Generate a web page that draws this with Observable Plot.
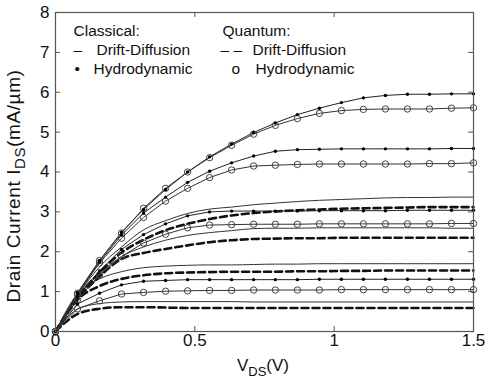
<!DOCTYPE html>
<html>
<head>
<meta charset="utf-8">
<script src="https://cdn.jsdelivr.net/npm/d3@7"></script>
<script src="https://cdn.jsdelivr.net/npm/@observablehq/plot@0.6"></script>
<style>
  body { margin: 0; background: #fff; }
  #chart svg { display: block; }
</style>
</head>
<body>
<div id="chart"></div>
<script>
// Drain bias points (V)
const vds = [0, 0.079, 0.158, 0.237, 0.316, 0.395, 0.474, 0.553, 0.632, 0.711,
             0.789, 0.868, 0.947, 1.026, 1.105, 1.184, 1.263, 1.342, 1.421, 1.5];

// Hydrodynamic, classical (mA/um)
const classicalHD1 = [0, 0.97, 1.78, 2.49, 3.06, 3.56, 4.00, 4.38, 4.70, 4.99, 5.23, 5.44, 5.60, 5.74, 5.86, 5.92, 5.95, 5.95, 5.96, 5.96];
const classicalHD2 = [0, 0.95, 1.74, 2.42, 2.97, 3.37, 3.74, 4.02, 4.23, 4.40, 4.52, 4.56, 4.57, 4.58, 4.58, 4.58, 4.58, 4.58, 4.59, 4.59];
const classicalHD3 = [0, 0.88, 1.52, 2.06, 2.43, 2.70, 2.90, 3.00, 3.02, 3.02, 3.02, 3.02, 3.03, 3.03, 3.03, 3.03, 3.04, 3.04, 3.04, 3.04];
const classicalHD4 = [0, 0.69, 0.96, 1.17, 1.26, 1.28, 1.30, 1.30, 1.30, 1.30, 1.30, 1.30, 1.31, 1.31, 1.31, 1.31, 1.31, 1.31, 1.31, 1.31];

// Hydrodynamic, quantum (mA/um)
const quantumHD1 = [0, 0.96, 1.78, 2.47, 3.09, 3.59, 4.00, 4.36, 4.67, 4.95, 5.17, 5.34, 5.47, 5.54, 5.57, 5.58, 5.58, 5.58, 5.60, 5.61];
const quantumHD2 = [0, 0.93, 1.72, 2.34, 2.86, 3.27, 3.59, 3.86, 4.05, 4.15, 4.17, 4.19, 4.20, 4.20, 4.20, 4.20, 4.20, 4.21, 4.21, 4.23];
const quantumHD3 = [0, 0.80, 1.42, 1.88, 2.22, 2.44, 2.60, 2.67, 2.68, 2.69, 2.69, 2.69, 2.70, 2.70, 2.70, 2.70, 2.70, 2.70, 2.71, 2.71];
const quantumHD4 = [0, 0.57, 0.77, 0.94, 0.98, 1.01, 1.02, 1.03, 1.03, 1.04, 1.04, 1.04, 1.04, 1.05, 1.05, 1.05, 1.05, 1.05, 1.05, 1.05];

// Drift-diffusion, classical (mA/um)
const classicalDD1 = [0, 0.90, 1.62, 2.12, 2.55, 2.78, 2.96, 3.07, 3.12, 3.18, 3.22, 3.26, 3.29, 3.31, 3.33, 3.35, 3.36, 3.36, 3.37, 3.37];
const classicalDD2 = [0, 0.85, 1.45, 1.88, 2.12, 2.29, 2.41, 2.48, 2.53, 2.58, 2.59, 2.59, 2.60, 2.60, 2.60, 2.60, 2.60, 2.60, 2.59, 2.59];
const classicalDD3 = [0, 0.95, 1.32, 1.50, 1.60, 1.64, 1.66, 1.67, 1.67, 1.68, 1.69, 1.69, 1.70, 1.70, 1.70, 1.70, 1.70, 1.70, 1.70, 1.70];
const classicalDD4 = [0, 0.56, 0.70, 0.74, 0.75, 0.75, 0.75, 0.75, 0.75, 0.74, 0.74, 0.74, 0.74, 0.74, 0.74, 0.74, 0.74, 0.74, 0.74, 0.74];

// Drift-diffusion, quantum (mA/um)
const quantumDD1 = [0, 0.85, 1.48, 1.98, 2.30, 2.54, 2.70, 2.82, 2.91, 2.97, 3.01, 3.04, 3.06, 3.08, 3.09, 3.10, 3.11, 3.12, 3.12, 3.12];
const quantumDD2 = [0, 0.80, 1.38, 1.82, 1.97, 2.07, 2.16, 2.24, 2.29, 2.32, 2.33, 2.34, 2.34, 2.35, 2.35, 2.35, 2.35, 2.35, 2.35, 2.35];
const quantumDD3 = [0, 0.80, 1.14, 1.32, 1.41, 1.46, 1.48, 1.49, 1.50, 1.50, 1.50, 1.51, 1.51, 1.52, 1.52, 1.53, 1.53, 1.53, 1.53, 1.53];
const quantumDD4 = [0, 0.44, 0.57, 0.61, 0.61, 0.60, 0.59, 0.59, 0.59, 0.59, 0.59, 0.59, 0.59, 0.59, 0.59, 0.59, 0.59, 0.59, 0.59, 0.59];

const xTicks = [0, 0.5, 1, 1.5];
const yTicks = [0, 1, 2, 3, 4, 5, 6, 7, 8];

// Long-format rows: one per (curve, bias point)
function rows(series) {
  return series.flatMap((vals, k) => vals.map((v, i) => ({vds: vds[i], ids: v, curve: k})));
}

const hdClassical = rows([classicalHD1, classicalHD2, classicalHD3, classicalHD4]);
const hdQuantum = rows([quantumHD1, quantumHD2, quantumHD3, quantumHD4]);
const ddClassical = rows([classicalDD1, classicalDD2, classicalDD3, classicalDD4]);
const ddQuantum = rows([quantumDD1, quantumDD2, quantumDD3, quantumDD4]);

const font = "'Liberation Sans', Arial, sans-serif";
const tickLenY = 0.126;  // 5px inward tick in y units
const tickLenX = 0.018;  // 5px inward tick in x units

function legendText(label, dx, dy, extra = {}) {
  return Plot.text([label], {
    text: d => d, frameAnchor: "top-left", dx, dy,
    textAnchor: "start", lineAnchor: "middle", fontSize: 15.5, fill: "#111", ...extra
  });
}

const chart = Plot.plot({
  width: 485,
  height: 380,
  marginLeft: 55,
  marginRight: 12,
  marginTop: 12,
  marginBottom: 49,
  style: {fontFamily: font, fontSize: "17px", background: "#fff", color: "#111"},
  x: {domain: [0, 1.5]},
  y: {domain: [0, 8]},
  marks: [
    // drift-diffusion curves
    Plot.line(ddClassical, {x: "vds", y: "ids", z: "curve", stroke: "#333", strokeWidth: 1, curve: "monotone-x"}),
    Plot.line(ddQuantum, {x: "vds", y: "ids", z: "curve", stroke: "#111", strokeWidth: 2.6, strokeDasharray: "7,4", curve: "monotone-x"}),
    // hydrodynamic curves with markers
    Plot.line(hdClassical, {x: "vds", y: "ids", z: "curve", stroke: "#222", strokeWidth: 1}),
    Plot.line(hdQuantum, {x: "vds", y: "ids", z: "curve", stroke: "#333", strokeWidth: 1}),
    Plot.dot(hdQuantum, {x: "vds", y: "ids", r: 3.2, stroke: "#444", strokeWidth: 1, fill: "none"}),
    Plot.dot(hdClassical, {x: "vds", y: "ids", r: 1.7, fill: "#000", stroke: "none"}),
    // box with inward ticks on all sides
    Plot.frame({stroke: "#555", strokeWidth: 1.2}),
    Plot.ruleX(xTicks, {x: d => d, y1: 0, y2: tickLenY, stroke: "#555"}),
    Plot.ruleX(xTicks, {x: d => d, y1: 8, y2: 8 - tickLenY, stroke: "#555"}),
    Plot.ruleY(yTicks, {y: d => d, x1: 0, x2: tickLenX, stroke: "#555"}),
    Plot.ruleY(yTicks, {y: d => d, x1: 1.5, x2: 1.5 - tickLenX, stroke: "#555"}),
    Plot.axisX({ticks: xTicks, tickSize: 0, tickPadding: 2, label: null, fontSize: 17, tickFormat: d => String(d)}),
    Plot.axisY({ticks: yTicks, tickSize: 0, tickPadding: 6, label: null, fontSize: 17}),
    // legend
    legendText("Classical:", 18, 19),
    legendText("\u2013", 18, 37.5),
    legendText("Drift-Diffusion", 41, 37.5),
    legendText("\u2022", 19, 56.5),
    legendText("Hydrodynamic", 38, 56.5),
    legendText("Quantum:", 167, 19),
    legendText("\u2013 \u2013", 165, 37.5),
    legendText("Drift-Diffusion", 197, 37.5),
    legendText("o", 176, 56.5),
    legendText("Hydrodynamic", 200, 56.5)
  ]
});

// Axis titles with subscripts
const svg = d3.select(chart);
const xt = svg.append("text")
  .attr("x", 263).attr("y", 371)
  .attr("text-anchor", "middle")
  .attr("font-family", font).attr("font-size", 17).attr("fill", "#111");
xt.append("tspan").text("V");
xt.append("tspan").attr("font-size", 13).attr("dy", 5).text("DS");
xt.append("tspan").attr("dy", -5).text("(V)");

const yt = svg.append("text")
  .attr("transform", "translate(20,186) rotate(-90)")
  .attr("text-anchor", "middle")
  .attr("font-family", font).attr("font-size", 19).attr("fill", "#111")
  .attr("letter-spacing", 0.6);
yt.append("tspan").text("Drain Current I");
yt.append("tspan").attr("font-size", 15).attr("dy", 5).text("DS");
yt.append("tspan").attr("dy", -5).text("(mA/\u00b5m)");

document.getElementById("chart").append(chart);
</script>
</body>
</html>
